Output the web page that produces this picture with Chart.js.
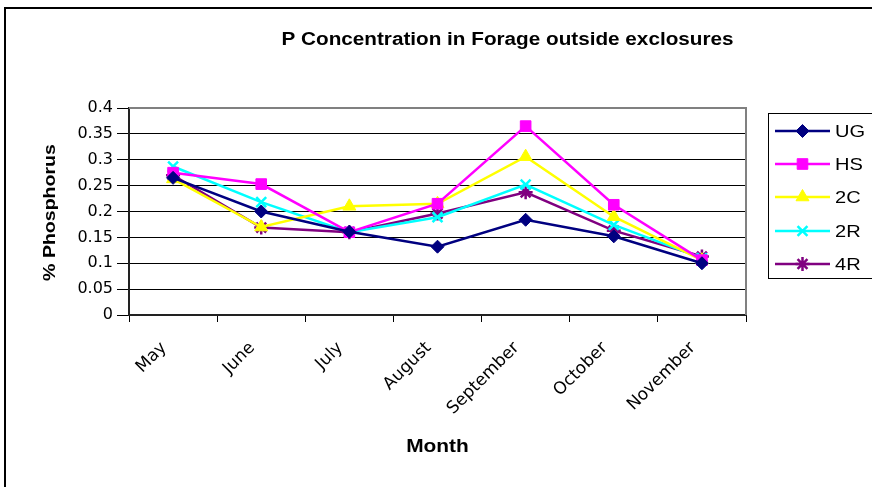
<!DOCTYPE html>
<html>
<head>
<meta charset="utf-8">
<script src="https://cdn.jsdelivr.net/npm/chart.js@4"></script>
<style>
  html, body { margin: 0; padding: 0; background: #fff; overflow: hidden; }
  #wrap { position: relative; width: 872px; height: 487px; }
  #frame { position: absolute; left: 4px; top: 7px; width: 900px; height: 520px; border: 2px solid #000; box-sizing: border-box; pointer-events: none; }
  canvas { position: absolute; left: 0; top: 0; }
</style>
</head>
<body>
<div id="wrap">
  <canvas id="c" width="872" height="487"></canvas>
  <div id="frame"></div>
</div>
<script>
const months = ["May", "June", "July", "August", "September", "October", "November"];
const ug  = [0.265, 0.200, 0.161, 0.132, 0.184, 0.152, 0.100];
const hs  = [0.275, 0.253, 0.160, 0.215, 0.365, 0.213, 0.106];
const c2  = [0.263, 0.170, 0.210, 0.215, 0.306, 0.190, 0.106];
const r2  = [0.287, 0.218, 0.160, 0.189, 0.252, 0.174, 0.110];
const r4  = [0.270, 0.169, 0.160, 0.196, 0.237, 0.163, 0.113];
const yTicks = [0, 0.05, 0.1, 0.15, 0.2, 0.25, 0.3, 0.35, 0.4];
const chartTitle = "P Concentration in Forage outside exclosures";
const yTitle = "% Phosphorus";
const xTitle = "Month";

const FONT = "'Liberation Sans', Arial, sans-serif";
const TICKFONT = "'DejaVu Sans', sans-serif";

function ds(label, data, color, style, radius, bw) {
  return {
    label, data,
    borderColor: color, backgroundColor: color,
    pointBackgroundColor: color, pointBorderColor: color,
    pointStyle: style, pointRadius: radius, pointHoverRadius: radius,
    pointBorderWidth: bw, borderWidth: 2.5, tension: 0
  };
}

const datasets = [
  ds("UG", ug, "#000080", "rectRot", 6.5, 1),
  ds("HS", hs, "#FF00FF", "rect", 7.5, 1),
  ds("2C", c2, "#FFFF00", "triangle", 7.5, 1),
  ds("2R", r2, "#00FFFF", "crossRot", 7, 2.5),
  ds("4R", r4, "#800080", "star", 7, 2.5)
];

function stretchedText(ctx, text, x, y, font, sx) {
  ctx.save();
  ctx.translate(x, y);
  ctx.scale(sx, 1);
  ctx.font = font;
  ctx.fillText(text, 0, 0);
  ctx.restore();
}

const decor = {
  id: "decor",
  beforeDraw(chart) {
    const ctx = chart.ctx;
    ctx.save();
    ctx.fillStyle = "#fff";
    ctx.fillRect(0, 0, chart.width, chart.height);
    ctx.restore();
  },
  afterDraw(chart) {
    const ctx = chart.ctx;
    const a = chart.chartArea;
    ctx.save();
    ctx.strokeStyle = "#808080";
    ctx.lineWidth = 2;
    ctx.beginPath();
    ctx.moveTo(a.left, a.top);
    ctx.lineTo(a.right, a.top);
    ctx.lineTo(a.right, a.bottom);
    ctx.stroke();
    ctx.fillStyle = "#000";
    ctx.textAlign = "center";
    ctx.textBaseline = "alphabetic";
    stretchedText(ctx, chartTitle, 507.5, 45, "bold 18px " + FONT, 1.15);
    stretchedText(ctx, xTitle, 437.5, 452, "bold 19px " + FONT, 1.1);
    ctx.textBaseline = "middle";
    ctx.save();
    ctx.translate(50, 212.5);
    ctx.rotate(-Math.PI / 2);
    ctx.scale(1.15, 1);
    ctx.font = "bold 17px " + FONT;
    ctx.fillText(yTitle, 0, 0);
    ctx.restore();
    ctx.strokeStyle = "#000";
    ctx.lineWidth = 1;
    ctx.strokeRect(768.5, 113.5, 120, 165);
    const ys = [131, 164, 197, 231, 264];
    chart.data.datasets.forEach((d, i) => {
      const y = ys[i];
      ctx.strokeStyle = d.borderColor;
      ctx.fillStyle = d.borderColor;
      ctx.lineWidth = 2.5;
      ctx.beginPath();
      ctx.moveTo(775, y);
      ctx.lineTo(830, y);
      ctx.stroke();
      ctx.lineWidth = d.pointBorderWidth;
      Chart.helpers.drawPoint(ctx, {
        pointStyle: d.pointStyle, radius: d.pointRadius, borderWidth: d.pointBorderWidth, rotation: 0
      }, 802.5, y);
      ctx.fillStyle = "#000";
      ctx.textAlign = "left";
      ctx.textBaseline = "middle";
      stretchedText(ctx, d.label, 835, y + 1, "17px " + FONT, 1.18);
    });
    ctx.restore();
  }
};

new Chart(document.getElementById("c"), {
  type: "line",
  data: { labels: months, datasets },
  options: {
    responsive: false,
    animation: false,
    devicePixelRatio: 1,
    layout: { padding: { top: 108, right: 126, left: 0, bottom: 0 } },
    plugins: {
      legend: { display: false },
      title: { display: false },
      tooltip: { enabled: false }
    },
    scales: {
      x: {
        type: "category",
        offset: true,
        afterFit(s) { s.height = 172; },
        grid: { offset: true, drawOnChartArea: false, drawTicks: true, tickLength: 7, color: "#000", lineWidth: 1 },
        border: { color: "#222", width: 2 },
        ticks: { minRotation: 45, maxRotation: 45, autoSkip: false, color: "#000", font: { size: 17, family: TICKFONT }, padding: 16, labelOffset: -9 }
      },
      y: {
        min: 0, max: 0.4,
        afterFit(s) { s.width = 129; },
        afterBuildTicks(s) { s.ticks = yTicks.map(v => ({ value: v })); },
        grid: { color: "#000", lineWidth: 1, tickLength: 12, drawTicks: true },
        border: { color: "#222", width: 2 },
        ticks: {
          color: "#000", font: { size: 16, family: TICKFONT }, padding: 4,
          callback: v => String(+v.toFixed(2))
        }
      }
    }
  },
  plugins: [decor]
});
</script>
</body>
</html>
